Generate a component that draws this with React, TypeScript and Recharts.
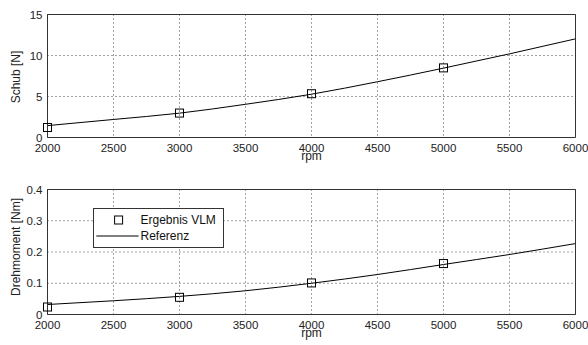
import { CartesianGrid, ComposedChart, Label, Legend, Line, XAxis, YAxis } from 'recharts';

const rpm = [2000, 2500, 3000, 3500, 4000, 4500, 5000, 5500, 6000];
const schubRef = [1.45, 2.2, 2.97, 4.05, 5.28, 6.8, 8.46, 10.2, 12.03];
const momentRef = [0.032, 0.044, 0.058, 0.076, 0.1, 0.128, 0.16, 0.192, 0.227];

const vlmRpm = [2000, 3000, 4000, 5000];
const schubVlm = [1.22, 2.98, 5.34, 8.49];
const momentVlm = [0.024, 0.055, 0.101, 0.163];

const xTicks = [2000, 2500, 3000, 3500, 4000, 4500, 5000, 5500, 6000];
const schubTicks = [0, 5, 10, 15];
const momentTicks = [0, 0.1, 0.2, 0.3, 0.4];

const legendNames = ['Ergebnis VLM', 'Referenz'];

const font = '"Liberation Sans", Arial, sans-serif';
const tickStyle = { fontSize: 11.5, fill: '#222', fontFamily: font };
const axisColor = '#333';

const SquareDot = (props: any) => {
  const { cx, cy, index } = props;
  if (cx == null || cy == null) return null;
  return <rect key={`sq-${index}`} x={cx - 4} y={cy - 4} width={8} height={8} fill="none" stroke="#000" />;
};

// rotated y label, centred on the axis box (shift moves it along the axis)
const YTitle = ({ viewBox, text, shift }: any) => {
  const cx = viewBox.x + 8;
  const cy = viewBox.y + viewBox.height / 2 + shift;
  return (
    <text
      x={cx}
      y={cy}
      dy="0.355em"
      transform={`rotate(-90 ${cx} ${cy})`}
      textAnchor="middle"
      fontSize={12}
      fill="#222"
      fontFamily={font}
    >
      {text}
    </text>
  );
};

const LegendBox = () => (
  <div
    style={{
      width: 131,
      height: 40,
      boxSizing: 'border-box',
      border: `1px solid ${axisColor}`,
      background: '#fff',
      fontFamily: font,
      fontSize: 12,
      color: '#111',
    }}
  >
    {legendNames.map((name, i) => (
      <div key={name} style={{ display: 'flex', alignItems: 'center', height: 16, marginTop: i === 0 ? 3 : 0 }}>
        <svg width={47} height={16} style={{ flex: 'none' }}>
          {i === 0 ? (
            <rect x={20.6} y={4} width={8} height={8} fill="none" stroke="#000" />
          ) : (
            <line x1={2.3} x2={44.6} y1={8} y2={8} stroke="#000" />
          )}
        </svg>
        <span style={{ lineHeight: '16px' }}>{name}</span>
      </div>
    ))}
  </div>
);

interface PanelProps {
  refValues: number[];
  vlmValues: number[];
  yTicks: number[];
  yLabel: string;
  labelShift: number;
  height: number;
  margin: { top: number; right: number; bottom: number; left: number };
  legend?: boolean;
}

function Panel({ refValues, vlmValues, yTicks, yLabel, labelShift, height, margin, legend }: PanelProps) {
  const refData = rpm.map((r, i) => ({ rpm: r, value: refValues[i] }));
  const vlmData = vlmRpm.map((r, i) => ({ rpm: r, value: vlmValues[i] }));
  const yDomain = [yTicks[0], yTicks[yTicks.length - 1]];
  const xDomain = [xTicks[0], xTicks[xTicks.length - 1]];

  return (
    <ComposedChart width={588} height={height} margin={margin}>
      <CartesianGrid stroke="#444" strokeDasharray="1 3" />
      <XAxis
        type="number"
        dataKey="rpm"
        domain={xDomain}
        ticks={xTicks}
        height={22}
        axisLine={false}
        tickLine={false}
        tickSize={0}
        tickMargin={6}
        tick={tickStyle}
      >
        <Label value="rpm" position="insideBottom" offset={0} fontSize={12} fill="#222" fontFamily={font} />
      </XAxis>
      <XAxis xAxisId="b" type="number" domain={xDomain} ticks={xTicks} mirror height={1} tick={false} stroke={axisColor} tickSize={5} />
      <XAxis xAxisId="t" orientation="top" type="number" domain={xDomain} ticks={xTicks} mirror height={1} tick={false} stroke={axisColor} tickSize={5} />
      <YAxis
        type="number"
        domain={yDomain}
        ticks={yTicks}
        width={40}
        axisLine={false}
        tickLine={false}
        tickSize={0}
        tickMargin={5}
        tick={tickStyle}
      >
        <Label content={(p: any) => <YTitle viewBox={p.viewBox} text={yLabel} shift={labelShift} />} />
      </YAxis>
      <YAxis yAxisId="l" type="number" domain={yDomain} ticks={yTicks} mirror width={1} tick={false} stroke={axisColor} tickSize={5} />
      <YAxis yAxisId="r" orientation="right" type="number" domain={yDomain} ticks={yTicks} mirror width={1} tick={false} stroke={axisColor} tickSize={5} />
      <Line
        data={refData}
        dataKey="value"
        name="Referenz"
        type="monotone"
        stroke="#000"
        strokeWidth={1}
        dot={false}
        activeDot={false}
        isAnimationActive={false}
      />
      <Line
        data={vlmData}
        dataKey="value"
        name="Ergebnis VLM"
        stroke="none"
        dot={SquareDot}
        activeDot={false}
        isAnimationActive={false}
      />
      {legend && (
        <Legend
          verticalAlign="middle"
          align="center"
          layout="horizontal"
          content={() => <LegendBox />}
          wrapperStyle={{ left: 92.5, top: 37.5, width: 131, height: 40 }}
        />
      )}
    </ComposedChart>
  );
}

export default function App() {
  return (
    <div style={{ position: 'absolute', left: 0, top: 0, width: 588, height: 345, background: '#fff' }}>
      <Panel
        refValues={schubRef}
        vlmValues={schubVlm}
        yTicks={schubTicks}
        yLabel="Schub [N]"
        labelShift={1}
        height={170}
        margin={{ top: 14.5, right: 12.5, bottom: 10.5, left: 7.5 }}
      />
      <div style={{ position: 'absolute', left: 0, top: 170 }}>
        <Panel
          refValues={momentRef}
          vlmValues={momentVlm}
          yTicks={momentTicks}
          yLabel="Drehmoment [Nm]"
          labelShift={-5}
          height={175}
          margin={{ top: 19.5, right: 12.5, bottom: 8.5, left: 7.5 }}
          legend
        />
      </div>
    </div>
  );
}
